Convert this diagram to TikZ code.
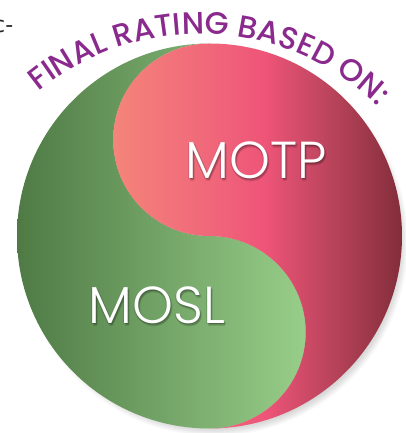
\documentclass[tikz,border=0pt]{standalone}
\usepackage{fontspec}
\newfontfamily\arcfont{Poppins Medium}
\newfontfamily\labelfont{Poppins Light}
\newfontfamily\notefont{DejaVu Sans}
\usetikzlibrary{decorations.text}

\definecolor{greendark}{HTML}{4F7A45}
\definecolor{greenlight}{HTML}{97CE89}
\definecolor{pinksalmon}{HTML}{F5847A}
\definecolor{pinksoft}{HTML}{F06A7A}
\definecolor{pinkhot}{HTML}{EF5579}
\definecolor{pinkdeep}{HTML}{B8435A}
\definecolor{reddark}{HTML}{832D3A}
\definecolor{ratingpurple}{HTML}{8A2A8D}

\pgfdeclarehorizontalshading{pinkfade}{100bp}{
  color(0bp)=(pinksalmon); color(25bp)=(pinksalmon); color(40bp)=(pinksoft);
  color(51bp)=(pinkhot); color(63bp)=(pinkdeep); color(75bp)=(reddark); color(100bp)=(reddark)}

\tikzset{
  half label/.style={text=white, font=\labelfont\fontsize{52}{52}\selectfont, inner sep=0pt},
  half shadow/.style={text=black, opacity=0.12, font=\labelfont\fontsize{52}{52}\selectfont, inner sep=0pt}
}

\begin{document}
\begin{tikzpicture}[x=1pt,y=1pt]
    \useasboundingbox (0,0) rectangle (405,433);

    % soft shadow
    \foreach \k in {0,...,10}
        \fill[black, opacity=0.02] (214,191) circle[radius=184pt+\k pt];

    % green half
    \shade[left color=greendark, right color=greenlight]
        (209.5,389.5) arc[start angle=90, end angle=270, radius=192.5pt]
        arc[start angle=-90, end angle=90, radius=96.25pt]
        arc[start angle=-90, end angle=-270, radius=96.25pt] -- cycle;

    % pink half
    \shade[shading=pinkfade]
        (209.5,389.5) arc[start angle=90, end angle=-90, radius=192.5pt]
        arc[start angle=-90, end angle=90, radius=96.25pt]
        arc[start angle=-90, end angle=-270, radius=96.25pt] -- cycle;

    \foreach \dx/\dy in {1/-1,2/-2,-1/-1,1/-3}
        \node[half shadow] at (256+\dx,273+\dy) {MOTP};
    \node[half label] (motp) at (256,273) {MOTP};
    \foreach \dx/\dy in {1/-1,2/-2,-1/-1,1/-3}
        \node[half shadow] at (157+\dx,128+\dy) {MOSL};
    \node[half label] (mosl) at (157,128) {MOSL};

    % title along the rim
    \path[decorate, decoration={text along path, text align=center,
        text={|\arcfont\fontsize{31}{31}\selectfont\color{ratingpurple}|FINAL RATING BASED ON:}}]
        (200,145) ++(145:254pt) arc[start angle=145, end angle=30, radius=254pt];

    \node[anchor=base west, inner sep=0pt, font=\notefont\fontsize{22}{22}\selectfont, text=black!85] (note) at (-7,400) {c-};
\end{tikzpicture}
\end{document}
